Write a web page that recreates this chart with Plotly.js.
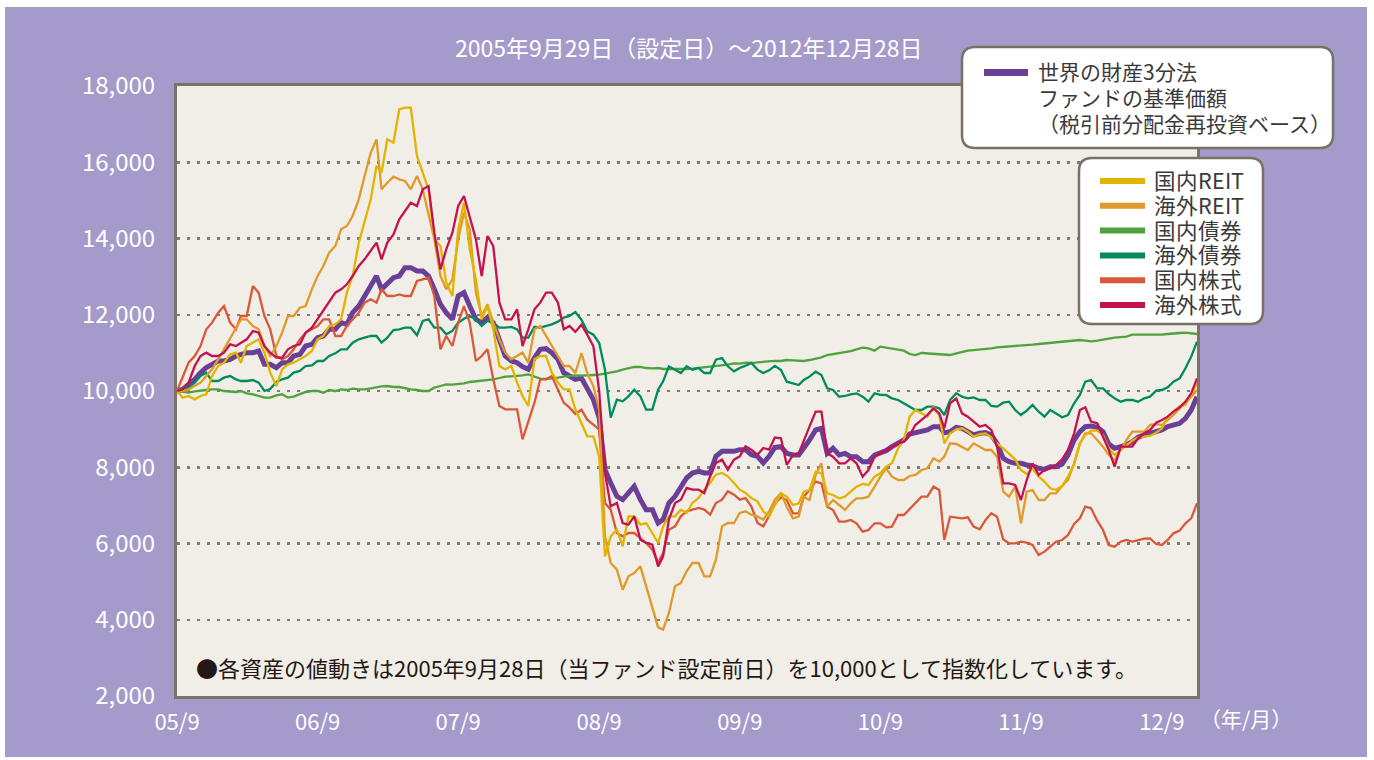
<!DOCTYPE html>
<html>
<head>
<meta charset="utf-8">
<script src="https://cdn.plot.ly/plotly-3.0.1.min.js"></script>
<style>
@font-face {
  font-family: 'TightCJK';
  src: local('Noto Sans CJK JP Regular'), local('NotoSansCJKjp-Regular'), local('Noto Sans CJK JP');
  ascent-override: 86%;
  descent-override: 14%;
  line-gap-override: 0%;
}
html,body{margin:0;padding:0;background:#ffffff;width:1374px;height:760px;overflow:hidden;}
#chart{position:absolute;left:5px;top:7px;width:1362px;height:750px;}
</style>
</head>
<body>
<div id="chart"></div>
<script>
// Sample dates: month-end (28th) readings and mid-month (13th) readings
const monthDates = [
'2005-09-28','2005-10-28','2005-11-28','2005-12-28',
'2006-01-28','2006-02-28','2006-03-28','2006-04-28','2006-05-28','2006-06-28','2006-07-28','2006-08-28','2006-09-28','2006-10-28','2006-11-28','2006-12-28',
'2007-01-28','2007-02-28','2007-03-28','2007-04-28','2007-05-28','2007-06-28','2007-07-28','2007-08-28','2007-09-28','2007-10-28','2007-11-28','2007-12-28',
'2008-01-28','2008-02-28','2008-03-28','2008-04-28','2008-05-28','2008-06-28','2008-07-28','2008-08-28','2008-09-28','2008-10-28','2008-11-28','2008-12-28',
'2009-01-28','2009-02-28','2009-03-28','2009-04-28','2009-05-28','2009-06-28','2009-07-28','2009-08-28','2009-09-28','2009-10-28','2009-11-28','2009-12-28',
'2010-01-28','2010-02-28','2010-03-28','2010-04-28','2010-05-28','2010-06-28','2010-07-28','2010-08-28','2010-09-28','2010-10-28','2010-11-28','2010-12-28',
'2011-01-28','2011-02-28','2011-03-28','2011-04-28','2011-05-28','2011-06-28','2011-07-28','2011-08-28','2011-09-28','2011-10-28','2011-11-28','2011-12-28',
'2012-01-28','2012-02-28','2012-03-28','2012-04-28','2012-05-28','2012-06-28','2012-07-28','2012-08-28','2012-09-28','2012-10-28','2012-11-28','2012-12-28'
];
const midDates = [
'2005-10-13','2005-11-13','2005-12-13',
'2006-01-13','2006-02-13','2006-03-13','2006-04-13','2006-05-13','2006-06-13','2006-07-13','2006-08-13','2006-09-13','2006-10-13','2006-11-13','2006-12-13',
'2007-01-13','2007-02-13','2007-03-13','2007-04-13','2007-05-13','2007-06-13','2007-07-13','2007-08-13','2007-09-13','2007-10-13','2007-11-13','2007-12-13',
'2008-01-13','2008-02-13','2008-03-13','2008-04-13','2008-05-13','2008-06-13','2008-07-13','2008-08-13','2008-09-13','2008-10-13','2008-11-13','2008-12-13',
'2009-01-13','2009-02-13','2009-03-13','2009-04-13','2009-05-13','2009-06-13','2009-07-13','2009-08-13','2009-09-13','2009-10-13','2009-11-13','2009-12-13',
'2010-01-13','2010-02-13','2010-03-13','2010-04-13','2010-05-13','2010-06-13','2010-07-13','2010-08-13','2010-09-13','2010-10-13','2010-11-13','2010-12-13',
'2011-01-13','2011-02-13','2011-03-13','2011-04-13','2011-05-13','2011-06-13','2011-07-13','2011-08-13','2011-09-13','2011-10-13','2011-11-13','2011-12-13',
'2012-01-13','2012-02-13','2012-03-13','2012-04-13','2012-05-13','2012-06-13','2012-07-13','2012-08-13','2012-09-13','2012-10-13','2012-11-13','2012-12-13'
];

// 世界の財産3分法ファンドの基準価額
const fundMonth = [10000,10175,10481,10699,10787,10918,11005,11049,10699,10743,10918,11180,11399,11618,11792,12055,12492,13016,12798,13016,13235,13147,12667,12055,12492,12229,11792,11792,10918,10743,10568,11093,11005,10481,10306,
10035,9300,7587,7150,7500,6888,6538,7062,7500,7849,7849,8286,8418,8461,8330,8112,8520,
8365,8321,8715,9021,8496,8365,8278,8146,8365,8540,8715,8907,8977,9065,8933,9021,8846,
8907,8627,8146,8103,8033,7945,8015,8321,8933,9082,8933,8496,8584,8785,8890,8977,9108,9283,9851];
const fundMid = [10044,10306,10612,10787,10831,10962,11005,10699,10612,10743,10962,11224,11443,11618,11749,12229,12754,
12667,12973,13235,13147,13016,12273,11880,12579,11880,11924,11355,10787,10638,10874,11110,10831,10393,
10341,9773,7937,7237,7325,7150,6888,6625,7237,7718,7893,7849,8418,8418,8461,8286,8286,
8540,8321,8496,8977,8365,8321,8278,8146,8321,8435,8627,8872,8959,9065,8907,9048,8933,
8890,8846,8234,8103,8059,7972,8015,8085,8715,9065,9048,8610,8540,8671,8846,8933,9065,9152,9502];

// 国内REIT
const jreitMonth = [10000,9869,9869,10393,10743,11005,11180,11355,10481,10568,10743,10918,11355,11705,11880,13016,14415,15901,16601,17388,17432,15727,13978,12842,14240,13716,11880,11618,10568,10219,9607,10918,10481,10044,9519,
8811,8286,6188,5926,6713,6538,6014,6713,6888,7062,7412,7805,7762,7412,7194,6844,7000,
7228,7054,7403,7840,7272,7228,7491,7535,7840,8103,8715,9502,9327,9370,8890,9021,8803,
8890,8627,8365,7928,7972,7622,7403,7753,8627,8960,8846,8321,8584,8785,8820,9021,9458,9633,10201];
const jreitMid = [9825,9781,9913,10656,10962,10743,11268,11005,10131,10699,10831,11049,11443,11749,12579,13891,15027,
15727,16514,17432,16164,15290,13803,12492,14940,12929,12229,10656,10656,9869,10831,10918,10219,10044,
9161,8811,5663,6363,6713,6494,6275,6450,6713,6800,7194,7587,7849,7587,7325,7106,6713,
7316,7010,7360,7884,7316,7185,7360,7561,7753,8015,8496,9327,9414,9572,8627,8995,8933,
8872,8785,8496,8208,7823,7753,7447,7508,8085,8846,8960,8496,8453,8697,8802,8907,9327,9607,9939];

// 海外REIT
const greitMonth = [10000,10044,10219,10568,11093,11618,11880,11618,10918,11530,11967,12229,13016,13628,14240,14590,15639,16601,15464,15552,15290,15290,13978,12667,13978,14240,11967,11792,11005,10918,10743,11705,11180,10656,10470,
10472,9510,5489,4789,5226,4877,3800,4177,4964,5489,5139,5576,6538,6800,6757,6625,7150,
6966,6704,7141,8103,7141,6879,7185,7228,7753,7753,7666,7797,7972,8146,8627,8540,8627,
8453,8278,7228,6529,7403,7141,7316,7666,8627,8890,8540,8190,8715,8933,9108,9108,9370,9677,10026];
const greitMid = [10000,10131,10393,10831,11355,11880,11705,11180,11180,11967,12185,12667,13279,13803,14328,15027,16251,
15290,15622,15508,15639,14590,13016,12929,14678,12579,12273,11355,10831,11005,11618,11443,10918,10656,
10997,10122,6188,5314,5139,5401,4352,3740,4877,5270,5489,5139,6450,6538,6844,6713,6844,
7316,6660,7228,7797,6966,7010,7054,7185,7491,7972,7666,7771,7928,8234,8278,8610,8453,
8540,8453,7360,7491,7360,7141,7316,7508,8103,8890,8715,8321,8453,8933,8933,9134,9239,9545,9851];

// 国内債券
const jbondMonth = [10000,9956,10000,10044,10000,9974,9939,9869,9825,9913,9851,9974,10000,10026,10044,10061,10044,10105,10131,10105,10044,10000,10087,10175,10175,10236,10262,10306,10376,10393,10437,10323,10323,10376,10411,
10402,10428,10472,10560,10630,10603,10603,10577,10560,10586,10621,10647,10691,10717,10734,10769,10790,
10813,10796,10813,10883,10970,11014,11093,11119,11163,11119,11058,10944,10988,10970,10944,11032,11075,
11093,11145,11163,11180,11215,11250,11276,11303,11338,11303,11355,11399,11425,11486,11478,11478,11513,11530,11495];
const jbondMid = [9974,9991,10026,10044,9991,10000,9913,9825,9886,9825,9921,10000,9956,10000,10026,10044,10070,
10122,10105,10070,10026,10000,10131,10166,10201,10254,10289,10341,10385,10411,10376,10315,10350,10393,
10402,10420,10455,10516,10595,10630,10595,10577,10568,10577,10603,10638,10673,10726,10743,10752,10787,
10787,10804,10787,10848,10944,11005,11049,11137,11058,11137,11093,10970,10997,10970,10953,10988,11058,
11084,11119,11154,11172,11198,11233,11268,11285,11329,11320,11320,11373,11416,11478,11478,11469,11495,11521,11513];

// 海外債券
const gbondMonth = [10000,10087,10393,10262,10350,10306,10262,10219,10050,10306,10481,10656,10787,10918,11093,11268,11399,11443,11399,11618,11661,11836,11661,11486,11792,11967,11705,11792,11661,11618,11399,11661,11749,11924,12070,
11565,11259,9300,9729,10035,9510,10035,10647,10472,10560,10472,10822,10647,10604,10735,10472,10660,
10245,10157,10376,10420,10026,9869,9939,9720,9900,9808,9677,9502,9589,9545,9764,9851,9830,
9764,9589,9720,9370,9633,9327,9414,9370,9895,10289,10070,9808,9764,9720,9851,10026,10245,10595,11294];
const gbondMid = [10087,10219,10481,10262,10393,10262,10288,10000,10236,10350,10525,10673,10787,10988,11093,11355,11443,
11268,11600,11661,11460,11880,11661,11574,11897,11880,11836,11661,11679,11399,11688,11705,11819,11967,
11871,11478,10560,9773,9860,9860,9510,10254,10560,10647,10603,10472,10866,10516,10664,10560,10542,
10551,10201,10289,10507,10070,9851,9913,9851,9939,9895,9764,9572,9502,9589,9370,9939,9808,
9764,9607,9694,9502,9484,9458,9502,9309,9677,10245,10070,9921,9720,9764,9808,10009,10096,10332,10901];

// 国内株式
const jstockMonth = [10000,10743,11180,11792,12229,11618,11967,12579,11618,10831,11093,11530,11705,11880,11443,11880,12317,12317,12492,12535,12492,12929,12492,11443,11792,11792,10918,10306,9519,9519,9169,10306,10393,9694,9400,
9248,8986,6888,6188,6275,6014,5500,6363,6713,6888,6888,7062,7368,7150,6975,6450,7050,
7141,6791,7403,7578,6879,6573,6529,6354,6529,6442,6748,7054,7228,7403,6704,6660,6442,
6617,6704,6004,6048,5961,5786,6048,6223,6660,6923,6354,5917,6092,6092,6135,5961,6267,6529,7054];
const jstockMid = [10393,10918,11618,12055,11792,11967,12754,11967,10918,10918,11355,11618,11880,11443,11705,12055,12404,
12667,12492,12492,12885,12973,11093,11180,12229,10787,11093,9607,9519,8732,9694,10306,10044,9563,
9510,9117,7062,6275,6275,6144,5838,5751,6450,6844,6931,6757,7150,7281,7194,6538,6713,
7211,6791,7228,7622,6966,6573,6617,6311,6529,6424,6748,6896,7228,7491,6092,6686,6686,
6372,6791,6110,6004,6022,5699,5917,6092,6512,6966,6599,5961,6048,6048,6127,5987,6092,6337,6660];

// 海外株式
const gstockMonth = [10000,10219,10918,10918,11005,11180,11355,11530,11005,10874,11180,11530,11880,12317,12667,13016,13453,13891,13891,14503,14940,15290,14153,13716,14852,14590,13016,13803,11880,12142,11618,12317,12579,11618,11550,
11478,10000,6975,6538,6713,6014,5400,6626,7150,7412,7325,8112,7937,8286,8461,8505,8780,
8059,8365,9065,9458,8278,8103,8103,7928,8365,8540,8671,9108,9370,9414,9677,9414,9196,
9108,8540,7578,7141,8103,7928,8059,8453,9502,9196,8802,8015,8540,8758,8977,9239,9458,9720,10332];
const gstockMid = [10044,10656,11005,10918,11224,11268,11574,11180,10874,11093,11224,11661,12098,12579,12798,13279,13672,
13453,14109,14721,14852,15377,13191,14153,15115,13978,14066,12317,11880,11180,12142,12579,12317,11705,
11740,11172,7849,7062,6494,6101,5969,5663,7062,7456,7412,7762,8199,8199,8549,8330,8461,
8758,8321,8671,9458,8365,8103,8234,7753,8278,8453,8627,8846,9239,9545,9021,9808,9327,
9065,8977,7578,7535,7666,7797,7972,8208,8890,9572,9152,8453,8540,8540,8890,9169,9327,9572,9939];

const tickDates = ['2005-09-28','2006-09-28','2007-09-28','2008-09-28','2009-09-28','2010-09-28','2011-09-28','2012-09-28'];
const tickLabels = ['05/9','06/9','07/9','08/9','09/9','10/9','11/9','12/9'];
const yTicks = [2000,4000,6000,8000,10000,12000,14000,16000,18000];
const yLabels = ['2,000','4,000','6,000','8,000','10,000','12,000','14,000','16,000','18,000'];

const fundName = ['世界の財産3分法','ファンドの基準価額','（税引前分配金再投資ベース）'];
const assetNames = ['国内REIT','海外REIT','国内債券','海外債券','国内株式','海外株式'];
const assetColors = ['#e2b400','#e09a2b','#4ea33c','#008a5e','#d9583a','#c3124f'];
const fundColor = '#6c3f96';

const FONT = '"Noto Sans CJK JP", "Noto Sans", sans-serif';
const LEGEND_FONT = 'TightCJK, "Noto Sans CJK JP", sans-serif';

// merge month-end and mid-month readings in date order
function merge(a, b) {
  const out = [];
  for (let i = 0; i < a.length; i++) {
    out.push(a[i]);
    if (i < b.length) out.push(b[i]);
  }
  return out;
}
const xs = merge(monthDates, midDates);

const assetData = [
  merge(jreitMonth, jreitMid), merge(greitMonth, greitMid),
  merge(jbondMonth, jbondMid), merge(gbondMonth, gbondMid),
  merge(jstockMonth, jstockMid), merge(gstockMonth, gstockMid)
];
const order = [2, 3, 4, 1, 0, 5];

const traces = [{
  x: xs, y: merge(fundMonth, fundMid), type: 'scatter', mode: 'lines', name: fundName.join(''),
  line: {color: fundColor, width: 5}, showlegend: false, hoverinfo: 'skip'
}];
order.forEach(i => {
  traces.push({
    x: xs, y: assetData[i], type: 'scatter', mode: 'lines', name: assetNames[i],
    line: {color: assetColors[i], width: 2.3}, showlegend: false, hoverinfo: 'skip'
  });
});

// page pixel -> paper helpers for legend / label placement
const PL = 177, PR = 1197, PT = 86, PB = 696;
const X = px => (px - PL) / (PR - PL);
const Y = py => (PB - py) / (PB - PT);

function roundRect(x0, y0, x1, y1, r) {
  const rx = r / (PR - PL), ry = r / (PB - PT);
  const a = X(x0), b = X(x1), t = Y(y0), u = Y(y1);
  return `M ${a+rx},${t} L ${b-rx},${t} Q ${b},${t} ${b},${t-ry} L ${b},${u+ry} Q ${b},${u} ${b-rx},${u} ` +
         `L ${a+rx},${u} Q ${a},${u} ${a},${u+ry} L ${a},${t-ry} Q ${a},${t} ${a+rx},${t} Z`;
}

const shapes = [
  {type:'path', xref:'paper', yref:'paper', path: roundRect(962, 47, 1333, 148, 13),
   fillcolor:'#ffffff', line:{color:'#7a7166', width:2.5}},
  {type:'path', xref:'paper', yref:'paper', path: roundRect(1079, 158, 1263, 324, 13),
   fillcolor:'#ffffff', line:{color:'#7a7166', width:2.5}},
  {type:'line', xref:'paper', yref:'paper', x0: X(984), x1: X(1028), y0: Y(72.5), y1: Y(72.5),
   line:{color: fundColor, width: 7}}
];
const legendY = [181, 205.8, 230.6, 255.4, 280.2, 305];
assetNames.forEach((n, i) => {
  shapes.push({type:'line', xref:'paper', yref:'paper', x0: X(1100), x1: X(1145), y0: Y(legendY[i]), y1: Y(legendY[i]),
    line:{color: assetColors[i], width: 6}});
});

const annotations = [
  {text:'2005年9月29日（設定日）～2012年12月28日', xref:'paper', yref:'paper', x: X(688), y: Y(47),
   xanchor:'center', yanchor:'middle', showarrow:false, font:{family:FONT, size:23, color:'#ffffff'}},
  {text:'●各資産の値動きは2005年9月28日（当ファンド設定前日）を10,000として指数化しています。', xref:'paper', yref:'paper',
   x: X(194), y: Y(667), xanchor:'left', yanchor:'middle', showarrow:false, font:{family:FONT, size:22, color:'#231815'}},
  {text:'（年/月）', xref:'paper', yref:'paper', x: X(1198), y: Y(718), xanchor:'left', yanchor:'middle',
   showarrow:false, font:{family:FONT, size:21, color:'#ffffff'}}
];
const fundY = [72.5, 99, 124.5];
fundName.forEach((t, i) => {
  annotations.push({text: t, xref:'paper', yref:'paper', x: X(1036), y: Y(fundY[i]), xanchor:'left', yanchor:'middle',
    showarrow:false, font:{family:LEGEND_FONT, size:21, color:'#3a3a3a'}});
});
assetNames.forEach((t, i) => {
  annotations.push({text: t, xref:'paper', yref:'paper', x: X(1152), y: Y(legendY[i]), xanchor:'left', yanchor:'middle',
    showarrow:false, font:{family:LEGEND_FONT, size:21.5, color:'#3a3a3a'}});
});

const layout = {
  width: 1362, height: 750,
  margin: {l: 172, r: 170, t: 79, b: 61, pad: 0},
  paper_bgcolor: '#a59bcb',
  plot_bgcolor: '#f1eee7',
  showlegend: false,
  font: {family: FONT},
  xaxis: {
    type: 'date', range: ['2005-09-28', '2012-12-28'],
    tickmode: 'array', tickvals: tickDates, ticktext: tickLabels,
    tickfont: {family: FONT, size: 22, color: '#ffffff'},
    showgrid: false, zeroline: false, ticks: '',
    showline: true, mirror: true, linecolor: '#7b7268', linewidth: 3,
    ticklabelstandoff: 5, fixedrange: true
  },
  yaxis: {
    range: [2000, 18000],
    tickmode: 'array', tickvals: yTicks, ticktext: yLabels,
    tickfont: {family: FONT, size: 24, color: '#ffffff'},
    showgrid: true, gridcolor: '#857b70', gridwidth: 2.5, griddash: '3px,7px',
    zeroline: false, ticks: '',
    showline: true, mirror: true, linecolor: '#7b7268', linewidth: 3,
    ticklabelstandoff: 14, fixedrange: true
  },
  shapes: shapes,
  annotations: annotations
};

function draw() {
  Plotly.newPlot('chart', traces, layout, {staticPlot: true, displayModeBar: false});
}
if (document.fonts && document.fonts.load) {
  document.fonts.load('21px TightCJK', '世界REIT').then(draw, draw);
} else {
  draw();
}
</script>
</body>
</html>
